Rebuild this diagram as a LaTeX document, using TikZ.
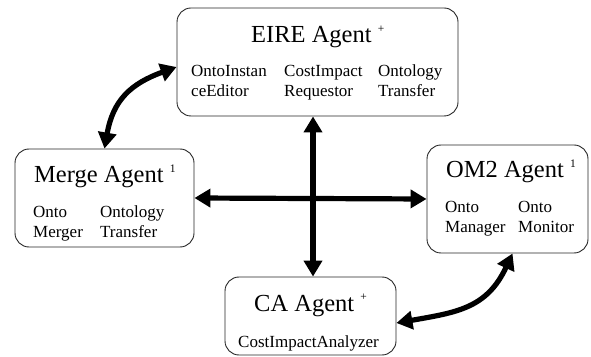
\documentclass[tikz,border=0pt]{standalone}
\usepackage{fontspec}
\setmainfont{Liberation Serif}
\usetikzlibrary{arrows.meta}
\tikzset{
  agentbox/.style={draw=black!85, line width=0.9pt, rounded corners=14pt, inner sep=0pt},
  ttl/.style={anchor=base west, inner sep=0pt, font=\fontsize{24.5}{26}\selectfont},
  sub/.style={anchor=base west, inner sep=0pt, font=\fontsize{17}{20}\selectfont},
  conn/.style={line width=5.2pt, {Triangle[width=18pt,length=16pt]}-{Triangle[width=18pt,length=16pt]}}
}
\newcommand{\supmark}[1]{\raisebox{10.5pt}{\fontsize{11.5}{11.5}\selectfont #1}}
\begin{document}
\begin{tikzpicture}[x=1pt,y=1pt]
\useasboundingbox (0,0) rectangle (591,356);
% boxes
\node[agentbox, minimum width=281pt, minimum height=108pt] (eire) at (317.5,294) {};
\node[agentbox, minimum width=179pt, minimum height=98pt] (merge) at (104.5,158) {};
\node[agentbox, minimum width=161pt, minimum height=108pt] (om2) at (507.5,157) {};
\node[agentbox, minimum width=171pt, minimum height=78pt] (ca) at (310.5,40) {};
% EIRE texts
\node[ttl] (eiret) at (251,313) {EIRE Agent \supmark{+}};
\node[sub] (e1a) at (191,279) {OntoInstan};
\node[sub] (e1b) at (191,259) {ceEditor};
\node[sub] (e2a) at (284,279) {CostImpact};
\node[sub] (e2b) at (284,259) {Requestor};
\node[sub] (e3a) at (378,279) {Ontology};
\node[sub] (e3b) at (378,259) {Transfer};
% Merge texts
\node[ttl] (merget) at (34,173) {Merge Agent \supmark{1}};
\node[sub] (m1a) at (33,138) {Onto};
\node[sub] (m1b) at (33,118) {Merger};
\node[sub] (m2a) at (100,138) {Ontology};
\node[sub] (m2b) at (100,118) {Transfer};
% OM2 texts
\node[ttl] (om2t) at (446,178) {OM2 Agent \supmark{1}};
\node[sub] (o1a) at (445,143) {Onto};
\node[sub] (o1b) at (445,123) {Manager};
\node[sub] (o2a) at (518,143) {Onto};
\node[sub] (o2b) at (518,123) {Monitor};
% CA texts
\node[ttl] (cat) at (254,45) {CA Agent \supmark{+}};
\node[sub] (c1) at (238,9) {CostImpactAnalyzer};
% connectors
\draw[conn] ([xshift=-4.5pt]eire.south) -- ([xshift=2.5pt]ca.north);
\draw[conn] (merge.east) -- (om2.west);
\draw[conn] ([yshift=-5pt]eire.west) to[out=200, in=80, looseness=1.15] (merge.north);
\draw[conn] ([xshift=5pt]om2.south) to[out=245, in=10, looseness=1.15] ([yshift=-7pt]ca.east);
\end{tikzpicture}
\end{document}
